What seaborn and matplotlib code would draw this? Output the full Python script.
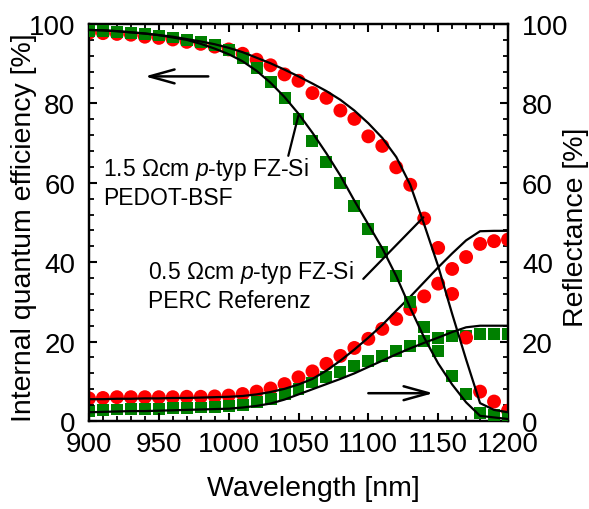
import matplotlib
matplotlib.use("Agg")
import matplotlib.pyplot as plt
import seaborn as sns
import pandas as pd
from matplotlib.ticker import MultipleLocator

# ---------------- data ----------------
wavelength = list(range(900, 1201, 10))

iqe_perc = [97.8, 97.7, 97.5, 97.3, 96.8, 96.5, 96.1, 95.5, 95.0, 94.3, 93.6,
            92.5, 91.0, 89.6, 87.3, 85.7, 82.6, 81.4, 78.2, 76.1, 71.7,
            69.3, 63.9, 59.5, 51.0, 43.6, 32.0, 21.0, 7.4, 4.9, 2.6]
iqe_pedot = [98.3, 98.2, 98.0, 97.8, 97.5, 97.1, 96.6, 96.0, 95.4, 94.8, 93.4,
             91.5, 88.8, 85.4, 81.3, 76.1, 70.6, 65.2, 60.0, 54.2, 48.4,
             42.6, 36.6, 30.0, 23.6, 17.7, 11.4, 6.8, 2.0, 1.6, 1.0]
refl_perc = [5.7, 5.8, 6.0, 6.0, 6.0, 6.0, 6.0, 6.1, 6.1, 6.2, 6.4,
             6.8, 7.4, 8.2, 9.3, 11.0, 12.5, 14.4, 16.4, 18.4, 20.7,
             23.2, 25.7, 28.2, 31.4, 34.6, 38.3, 41.3, 44.6, 45.3, 45.7]
refl_pedot = [2.6, 2.7, 2.9, 3.0, 3.0, 3.1, 3.2, 3.3, 3.4, 3.5, 3.7,
              4.0, 4.7, 5.5, 6.7, 8.0, 9.7, 11.0, 12.4, 13.9, 15.2,
              16.4, 17.7, 19.0, 20.2, 20.8, 21.3, 21.5, 21.9, 22.0, 22.0]

iqe_perc_fit = [98.5, 98.4, 98.2, 97.9, 97.6, 97.2, 96.8, 96.2, 95.6, 94.9, 94.0,
                92.9, 91.5, 90.1, 88.5, 86.8, 85.0, 83.1, 80.9, 78.2, 75.0,
                71.3, 66.5, 59.5, 49.5, 39.0, 27.0, 15.5, 4.5, 2.8, 2.2]
iqe_pedot_fit = [98.5, 98.4, 98.2, 97.9, 97.6, 97.2, 96.6, 96.0, 95.0, 93.8, 92.4,
                 90.6, 88.2, 85.2, 81.6, 77.4, 72.6, 67.4, 61.8, 55.5, 49.5,
                 43.5, 36.5, 28.5, 21.0, 14.5, 9.2, 4.7, 1.3, 0.9, 0.5]
refl_perc_fit = [5.5, 5.5, 5.6, 5.6, 5.7, 5.7, 5.8, 5.8, 5.9, 6.0, 6.1,
                 6.3, 6.7, 7.3, 8.1, 9.2, 10.6, 12.7, 15.2, 18.0, 21.0,
                 24.2, 27.8, 31.3, 35.0, 38.7, 42.2, 45.5, 47.8, 47.9, 47.9]
refl_pedot_fit = [2.2, 2.3, 2.4, 2.5, 2.5, 2.6, 2.7, 2.8, 2.9, 3.0, 3.1,
                  3.4, 3.8, 4.4, 5.4, 6.7, 8.0, 9.3, 10.6, 12.0, 13.6,
                  15.2, 16.8, 18.3, 19.7, 21.0, 22.4, 23.6, 24.0, 24.0, 24.0]

x_ticks = [900, 950, 1000, 1050, 1100, 1150, 1200]
y_ticks = [0, 20, 40, 60, 80, 100]

label_pedot = "1.5 $\\Omega$cm $p$-typ FZ-Si\nPEDOT-BSF"
label_perc = "0.5 $\\Omega$cm $p$-typ FZ-Si\nPERC Referenz"

# ---------------- style ----------------
sns.set_style("ticks")
plt.rcParams['font.family'] = ['Liberation Sans', 'DejaVu Sans']
plt.rcParams['mathtext.fontset'] = 'custom'
plt.rcParams['mathtext.rm'] = 'Liberation Sans'
plt.rcParams['mathtext.it'] = 'Liberation Sans:italic'
plt.rcParams['mathtext.bf'] = 'Liberation Sans:bold'
plt.rcParams['text.color'] = 'black'
plt.rcParams['axes.labelcolor'] = 'black'
plt.rcParams['xtick.color'] = 'black'
plt.rcParams['ytick.color'] = 'black'

df = pd.DataFrame({
    "wl": wavelength,
    "iqe_perc": iqe_perc, "iqe_pedot": iqe_pedot,
    "refl_perc": refl_perc, "refl_pedot": refl_pedot,
    "iqe_perc_fit": iqe_perc_fit, "iqe_pedot_fit": iqe_pedot_fit,
    "refl_perc_fit": refl_perc_fit, "refl_pedot_fit": refl_pedot_fit,
})

RED = "#ff0000"
GREEN = "#008000"

fig = plt.figure(figsize=(5.89, 5.10), dpi=100)
ax = fig.add_axes([89/589, 1-422/510, (508-89)/589, (422-25)/510])
ax2 = ax.twinx()

circ_s = 10.0**2
sq_s = 8.6**2

# IQE (left axis)
sns.scatterplot(data=df, x="wl", y="iqe_perc", ax=ax, marker="o", s=circ_s,
                color=RED, edgecolor="none", zorder=2, legend=False)
sns.scatterplot(data=df, x="wl", y="iqe_pedot", ax=ax, marker="s", s=sq_s,
                color=GREEN, edgecolor="none", zorder=3, legend=False)
sns.lineplot(data=df, x="wl", y="iqe_perc_fit", ax=ax, color="black", lw=1.6, zorder=4)
sns.lineplot(data=df, x="wl", y="iqe_pedot_fit", ax=ax, color="black", lw=1.6, zorder=4)

# Reflectance (right axis)
sns.scatterplot(data=df, x="wl", y="refl_perc", ax=ax2, marker="o", s=circ_s,
                color=RED, edgecolor="none", zorder=2, legend=False)
sns.scatterplot(data=df, x="wl", y="refl_pedot", ax=ax2, marker="s", s=sq_s,
                color=GREEN, edgecolor="none", zorder=3, legend=False)
sns.lineplot(data=df, x="wl", y="refl_perc_fit", ax=ax2, color="black", lw=1.6, zorder=4)
sns.lineplot(data=df, x="wl", y="refl_pedot_fit", ax=ax2, color="black", lw=1.6, zorder=4)

for a in (ax, ax2):
    a.set_xlim(900, 1200)
    a.set_ylim(0, 100)
    a.set_yticks(y_ticks)
    a.yaxis.set_minor_locator(MultipleLocator(4))
    for s in a.spines.values():
        s.set_linewidth(1.6)
        s.set_color("black")

ax.set_xticks(x_ticks)
ax.xaxis.set_minor_locator(MultipleLocator(10))

tick_fs = 20
ax.tick_params(axis="both", which="major", direction="in", length=6, width=1.5,
               labelsize=tick_fs, top=True, right=False, pad=7)
ax.tick_params(axis="both", which="minor", direction="in", length=3.5, width=1.3,
               top=True, right=False)
ax.tick_params(axis="y", which="major", pad=10)
ax2.tick_params(axis="y", which="major", direction="in", length=6, width=1.5,
                labelsize=tick_fs, pad=10)
ax2.tick_params(axis="y", which="minor", direction="in", length=3.5, width=1.3)

lab_fs = 20.5
ax.set_xlabel("Wavelength [nm]", fontsize=lab_fs)
ax.set_ylabel("Internal quantum efficiency [%]", fontsize=lab_fs)
ax2.set_ylabel("Reflectance [%]", fontsize=lab_fs)
ax.xaxis.set_label_coords(0.535, -0.137)
ax.yaxis.set_label_coords(-0.124, 0.49)
ax2.yaxis.set_label_coords(1.131, 0.49)

ax.set_zorder(ax2.get_zorder() + 1)
ax.patch.set_visible(False)

# annotations
ann_fs = 16.5
ax.text(909.8, 67.0, label_pedot, fontsize=ann_fs, ha="left", va="top")
ax.text(942.5, 41.0, label_perc, fontsize=ann_fs, ha="left", va="top")
ax.annotate("", xy=(1049.9, 76.9), xytext=(1042.7, 66.8),
            arrowprops=dict(arrowstyle="-", lw=1.6, color="black",
                            shrinkA=0, shrinkB=0))
ax.annotate("", xy=(1139.4, 51.3), xytext=(1096.4, 35.8),
            arrowprops=dict(arrowstyle="-", lw=1.6, color="black",
                            shrinkA=0, shrinkB=0))
# direction arrows
ax.annotate("", xy=(940, 86.8), xytext=(985.4, 86.8),
            arrowprops=dict(arrowstyle="->,head_length=0.9,head_width=0.25",
                            mutation_scale=20, lw=1.8, color="black",
                            shrinkA=0, shrinkB=0))
ax.annotate("", xy=(1146.5, 7.0), xytext=(1100, 7.0),
            arrowprops=dict(arrowstyle="->,head_length=0.9,head_width=0.25",
                            mutation_scale=20, lw=1.8, color="black",
                            shrinkA=0, shrinkB=0))

fig.savefig("out.png", dpi=100)
